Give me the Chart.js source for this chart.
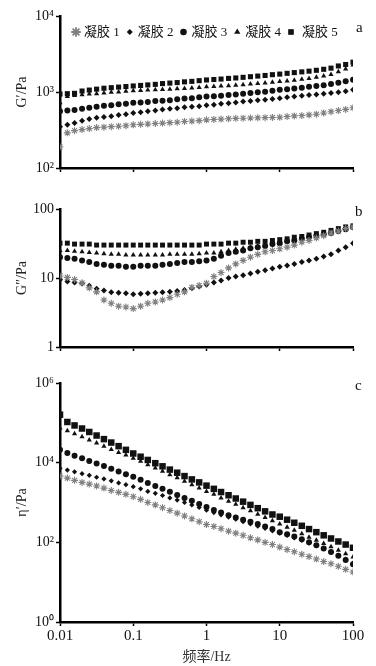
<!DOCTYPE html>
<html lang="zh">
<head>
<meta charset="UTF-8">
<title>凝胶 流变</title>
<script src="https://cdn.jsdelivr.net/npm/chart.js@4.4.0/dist/chart.umd.min.js"></script>
<style>
  body { margin: 0; background: #fff; }
  #wrap { position: relative; width: 376px; height: 666px; background: #fff; }
  .pane { position: absolute; left: 0; width: 376px; }
  .tag { position: absolute; font: 15px "Liberation Serif", serif; color: #111; }
</style>
</head>
<body>
<div id="wrap">
  <div class="pane" style="top:0;height:190px"><canvas id="cA"></canvas></div>
  <div class="pane" style="top:190px;height:170px"><canvas id="cB"></canvas></div>
  <div class="pane" style="top:360px;height:306px"><canvas id="cC"></canvas></div>
  <div class="tag" style="left:356px;top:19px">a</div>
  <div class="tag" style="left:355px;top:203px">b</div>
  <div class="tag" style="left:355px;top:377px">c</div>
</div>
<script>
// frequency (Hz)
const freq = [0.01, 0.0126, 0.0158, 0.02, 0.0251, 0.0316, 0.0398, 0.0501, 0.0631, 0.0794,
  0.1, 0.126, 0.158, 0.2, 0.251, 0.316, 0.398, 0.501, 0.631, 0.794,
  1, 1.26, 1.58, 2, 2.51, 3.16, 3.98, 5.01, 6.31, 7.94,
  10, 12.6, 15.8, 20, 25.1, 31.6, 39.8, 50.1, 63.1, 79.4, 100];

const gelNames = ['凝胶 1', '凝胶 2', '凝胶 3', '凝胶 4', '凝胶 5'];

// a: G' (Pa)
const gA1 = [190,290,310,320,330,340,345,350,355,360, 370,375,380,385,390,395,400,410,415,420, 430,435,440,445,450,452,455,458,460,462, 465,475,485,490,500,510,530,550,570,590, 620];
const gA2 = [350,370,390,420,440,460,470,480,500,510, 530,540,560,570,590,600,610,630,640,650, 670,680,700,710,730,750,760,780,790,810, 830,850,870,890,910,930,950,970,990,1020, 1070];
const gA3 = [560,570,580,600,620,640,660,670,690,700, 720,730,740,760,770,780,800,820,830,850, 870,880,890,910,930,950,970,990,1010,1040, 1070,1090,1110,1140,1170,1200,1230,1270,1320,1380, 1450];
const gA4 = [720,870,900,920,940,950,970,990,1000,1020, 1040,1050,1060,1070,1080,1090,1100,1110,1130,1150, 1170,1180,1200,1210,1230,1250,1270,1290,1310,1340, 1370,1400,1430,1470,1510,1560,1620,1700,1850,2000, 2270];
const gA5 = [940,950,960,1030,1060,1090,1120,1140,1160,1180, 1200,1220,1240,1260,1290,1310,1330,1360,1380,1410, 1440,1460,1480,1510,1530,1560,1590,1620,1650,1690, 1720,1760,1800,1840,1880,1930,1990,2060,2200,2300, 2470];

// b: G'' (Pa)
const gB1 = [10.7,10.2,9.5,8.5,7.2,6.3,4.8,4.3,3.9,3.8, 3.6,3.9,4.3,4.5,4.8,5.2,5.8,6.3,7.3,7.8, 8.4,10.5,12,14,16,18,20,22,24,25, 26.5,28,30,33,35,38,41,45,48,52, 55];
const gB2 = [9.4,8.9,8.6,8.3,7.7,7.0,6.6,6.2,6.1,6.0, 5.8,5.9,6.0,6.1,6.2,6.3,6.5,6.7,7.1,7.5, 8.0,8.6,9.2,10,10.5,11,11.6,12.3,13,13.7, 14.5,15.2,16,17,18,19,20.5,22,25,28, 32];
const gB3 = [20,19.5,19,18,17,16,15.5,15,15,14.5, 14.5,15,15,15,15.5,16,16.5,17,17,17.5, 18,19,21,23,24,25,27,28,29,31, 32,34,35,37,39,41,43,45,48,51, 55];
const gB4 = [25,25,24.5,24,23.5,23,22.5,22,22,21.5, 21.5,21.5,21.5,21.5,21.5,22,22,22,22,22.5, 23,23,24,25,26,27,28,29,30,31, 32,34,35,37,39,41,43,45,48,51, 55];
const gB5 = [32,32,31,31,31,30,30,30,30,30, 30,30,30,30,30,30,30,30,30,30, 31,31,31,32,32,33,33,34,34,35, 36,37,39,40,42,44,46,49,52,55, 57];

// c: eta' (Pa·s)
const gC1 = [4600,4100,3600,3200,2900,2600,2300,2000,1800,1600, 1400,1200,1000,870,740,630,540,460,390,330, 280,250,220,190,170,150,130,115,100,88, 76,66,58,50,44,38,33,29,25,21, 18];
const gC2 = [7200,6500,5900,5300,4800,4300,3900,3500,3100,2800, 2500,2200,1900,1700,1500,1300,1150,1000,870,750, 640,560,490,430,380,330,290,255,225,195, 170,150,130,112,96,82,70,58,47,38, 30];
const gC3 = [21000,17500,15000,13000,11000,9500,8200,7000,6000,5100, 4400,3700,3100,2600,2200,1850,1550,1300,1100,920, 770,650,560,480,420,370,330,290,250,215, 180,160,140,120,100,85,70,57,46,36, 28];
const gC4 = [74000,63000,53000,45000,37000,31000,26000,21500,18000,15500, 13000,10800,8900,7400,6100,5000,4200,3400,2800,2300, 1900,1600,1300,1080,900,740,620,510,420,350, 290,240,200,165,135,112,93,77,63,52, 43];
const gC5 = [160000,105000,86000,72000,59000,48000,39000,32000,26000,21000, 17000,14100,11700,9700,8100,6700,5600,4600,3800,3200, 2650,2200,1830,1520,1260,1050,870,720,600,500, 440,370,310,260,215,180,150,125,105,88, 73];

// tick values and labels
const xTicks = [0.01, 0.1, 1, 10, 100];
const yTicksA = [100, 1000, 10000];
const yLabelsA = ['10²', '10³', '10⁴'];
const yTicksB = [1, 10, 100];
const yLabelsB = ['1', '10', '100'];
const yTicksC = [1, 100, 10000, 1000000];
const yLabelsC = ['10⁰', '10²', '10⁴', '10⁶'];

// marker look
const pointStyles = ['star', 'rectRot', 'circle', 'triangle', 'rect'];
const pointColors = ['#808080', '#111', '#111', '#111', '#111'];
const serif = '"Liberation Serif", "Times New Roman", "Noto Sans CJK SC", serif';

// legend drawn inside panel a
const legendInPlot = {
  id: 'legendInPlot',
  afterDatasetsDraw(chart) {
    const ctx = chart.ctx, area = chart.chartArea;
    const radius = [4.8, 3, 3.3, 3.6, 4];
    const textGap = [8, 8, 8, 8, 11];
    ctx.save();
    ctx.font = '13px ' + serif;
    ctx.textBaseline = 'middle';
    let x = area.left + 16;
    const y = area.top + 16;
    chart.data.datasets.forEach((ds, i) => {
      ctx.fillStyle = pointColors[i];
      ctx.strokeStyle = pointColors[i];
      ctx.lineWidth = i === 0 ? 1.8 : 0;
      Chart.helpers.drawPoint(ctx, {pointStyle: ds.pointStyle, radius: radius[i], rotation: 0, borderWidth: i === 0 ? 1.8 : 0}, x, y);
      ctx.fillStyle = '#111';
      ctx.fillText(ds.label, x + textGap[i], y + 1);
      x += textGap[i] + ctx.measureText(ds.label).width + 10;
    });
    ctx.restore();
  }
};

function makePanel(id, series, o) {
  return new Chart(document.getElementById(id), {
    type: 'scatter',
    data: {
      datasets: series.map((arr, i) => ({
        label: gelNames[i],
        data: freq.map((f, j) => ({x: f, y: arr[j]})),
        pointStyle: pointStyles[i],
        pointRadius: o.radius[i],
        pointBackgroundColor: pointColors[i],
        pointBorderColor: pointColors[i],
        pointBorderWidth: i === 0 ? 1.1 : 0,
        showLine: false
      }))
    },
    options: {
      responsive: true,
      maintainAspectRatio: false,
      animation: false,
      layout: {padding: {top: o.top, right: 23, left: 0, bottom: 0}},
      plugins: {legend: {display: false}, tooltip: {enabled: false}},
      scales: {
        x: {
          type: 'logarithmic', min: 0.01, max: 100,
          afterBuildTicks: s => { s.ticks = xTicks.map(v => ({value: v})); },
          afterFit: s => { s.height = o.xh; },
          ticks: {display: o.xLabels, font: {family: serif, size: 15}, color: '#111', padding: 1,
                  maxRotation: 0, autoSkip: false, callback: v => String(v)},
          border: {color: '#000', width: 2.5},
          grid: {drawOnChartArea: false, drawTicks: true, tickLength: 4, tickColor: '#000', tickWidth: 1.5},
          title: {display: o.xLabels, text: '频率/Hz', font: {family: serif, size: 14}, color: '#333', padding: {top: 0, bottom: 0}}
        },
        y: {
          type: 'logarithmic', min: o.yTicks[0], max: o.yTicks[o.yTicks.length - 1],
          afterBuildTicks: s => { s.ticks = o.yTicks.map(v => ({value: v})); },
          afterFit: s => { s.width = 60; },
          ticks: {font: {family: serif, size: 14}, color: '#111', padding: 2,
                  callback: (v, i) => o.yLabels[i]},
          border: {color: '#000', width: 2.5},
          grid: {drawOnChartArea: false, drawTicks: true, tickLength: 4, tickColor: '#000', tickWidth: 1.5},
          title: {display: true, text: o.yTitle, font: {family: serif, size: 14}, color: '#222', padding: {top: 14, bottom: 0}}
        }
      }
    },
    plugins: o.plugins || []
  });
}

makePanel('cA', [gA1, gA2, gA3, gA4, gA5], {
  top: 16, xh: 22, xLabels: false, yTicks: yTicksA, yLabels: yLabelsA, yTitle: 'G′/Pa',
  radius: [3.5, 3, 3, 3, 3.6], plugins: [legendInPlot]
});
makePanel('cB', [gB1, gB2, gB3, gB4, gB5], {
  top: 19, xh: 13, xLabels: false, yTicks: yTicksB, yLabels: yLabelsB, yTitle: 'G″/Pa',
  radius: [3.5, 3, 3, 3, 3.5]
});
makePanel('cC', [gC1, gC2, gC3, gC4, gC5], {
  top: 23, xh: 44, xLabels: true, yTicks: yTicksC, yLabels: yLabelsC, yTitle: 'η′/Pa',
  radius: [3.5, 2.6, 3, 3, 4.6]
});
</script>
</body>
</html>
